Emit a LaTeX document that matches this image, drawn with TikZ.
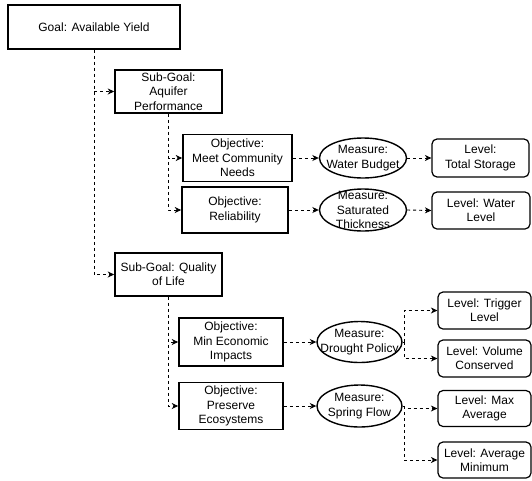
\documentclass[tikz,border=0pt]{standalone}
\usepackage{fontspec}
\setmainfont{Liberation Sans}
\usetikzlibrary{arrows.meta,shapes.geometric}
\begin{document}
\begin{tikzpicture}[x=1pt,y=-1pt,
  txt/.style={inner sep=0pt, align=center, font=\fontsize{12}{14.4}\selectfont},
  box/.style={draw, rectangle, line width=1.6pt, inner sep=0pt},
  ell/.style={draw, ellipse, line width=1.4pt, inner sep=0pt},
  lev/.style={draw, rectangle, rounded corners=5pt, line width=1.2pt, inner sep=0pt},
  link/.style={line width=0.9pt, dash pattern=on 3pt off 3pt, -{Stealth[length=6.5pt,width=6pt,inset=2pt]}},
  plain/.style={line width=0.9pt, dash pattern=on 3pt off 3pt}]
\fill[white] (0,0) rectangle (532,480);
\useasboundingbox (0,0) rectangle (532,480);

% goal and sub-goals
\node[box, minimum width=172pt, minimum height=44pt] (goal) at (94,27) {};
\node[txt] (goalT) at (goal) {Goal: Available Yield};
\node[box, minimum width=107pt, minimum height=43pt] (subA) at (168.5,91.5) {};
\node[txt] (subAT) at (subA) {Sub-Goal:\\Aquifer\\Performance};
\node[box, minimum width=107pt, minimum height=43pt] (subQ) at (168.5,274.5) {};
\node[txt] (subQT) at (subQ) {Sub-Goal: Quality\\of Life};

% objectives
\node[box, minimum width=109pt, minimum height=47pt] (obj1) at (237.5,158) {};
\node[txt] (obj1T) at (obj1) {Objective:\\Meet Community\\Needs};
\node[box, minimum width=106pt, minimum height=46pt] (obj2) at (235,210) {};
\node[txt] (obj2T) at (obj2) {Objective:\\Reliability};
\node[box, minimum width=104pt, minimum height=48pt] (obj3) at (231,342) {};
\node[txt] (obj3T) at (obj3) {Objective:\\Min Economic\\Impacts};
\node[box, minimum width=104pt, minimum height=47pt] (obj4) at (231,406) {};
\node[txt] (obj4T) at (obj4) {Objective:\\Preserve\\Ecosystems};

% measures
\node[ell, minimum width=87pt, minimum height=40pt] (m1) at (363,158) {};
\node[txt] (m1T) at (m1) {Measure:\\Water Budget};
\node[ell, minimum width=87pt, minimum height=42pt] (m2) at (363,210) {};
\node[txt] (m2T) at (m2) {Measure:\\Saturated\\Thickness};
\node[ell, minimum width=85pt, minimum height=41pt] (m3) at (359.5,342) {};
\node[txt] (m3T) at (m3) {Measure:\\Drought Policy};
\node[ell, minimum width=85pt, minimum height=42pt] (m4) at (359.5,406) {};
\node[txt] (m4T) at (m4) {Measure:\\Spring Flow};

% levels
\node[lev, minimum width=97pt, minimum height=38pt] (l1) at (480.5,158) {};
\node[txt] (l1T) at (l1) {Level:\\Total Storage};
\node[lev, minimum width=98pt, minimum height=37pt] (l2) at (481,210.5) {};
\node[txt] (l2T) at (l2) {Level: Water\\Level};
\node[lev, minimum width=93pt, minimum height=37pt] (l3) at (484.5,310.5) {};
\node[txt] (l3T) at (l3) {Level: Trigger\\Level};
\node[lev, minimum width=93pt, minimum height=37pt] (l4) at (484.5,358.5) {};
\node[txt] (l4T) at (l4) {Level: Volume\\Conserved};
\node[lev, minimum width=93pt, minimum height=36pt] (l5) at (484.5,408.5) {};
\node[txt] (l5T) at (l5) {Level: Max\\Average};
\node[lev, minimum width=93pt, minimum height=36pt] (l6) at (484.5,460) {};
\node[txt] (l6T) at (l6) {Level: Average\\Minimum};

% connectors
\draw[link] (goal.south) |- (subA.west);
\draw[link] (goal.south) |- (subQ.west);
\draw[link] (subA.south) |- (obj1.west);
\draw[link] (subA.south) |- (obj2.west);
\draw[link] (subQ.south) |- (obj3.west);
\draw[link] (subQ.south) |- (obj4.west);

\draw[link] (obj1.east) -- (m1.west);
\draw[link] (obj2.east) -- (m2.west);
\draw[link] (obj3.east) -- (m3.west);
\draw[link] (obj4.east) -- (m4.west);

\draw[link] (m1.east) -- (l1.west);
\draw[link] (m2.east) -- (l2.west);

\coordinate (b3) at (404,342);
\coordinate (b4) at (404,406);
\draw[plain] (m3.east) -- (b3);
\draw[link] (b3) |- (l3.west);
\draw[link] (b3) |- (l4.west);
\draw[plain] (m4.east) -- (b4);
\draw[link] (b4) |- (l5.west);
\draw[link] (b4) |- (l6.west);
\end{tikzpicture}
\end{document}
